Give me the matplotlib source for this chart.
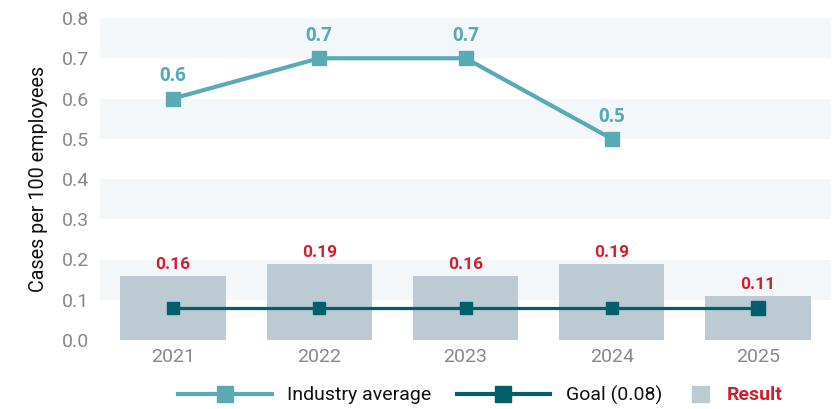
import numpy as np
import matplotlib.pyplot as plt
from matplotlib.lines import Line2D
from matplotlib.patches import Patch

years = ["2021", "2022", "2023", "2024", "2025"]
result = [0.16, 0.19, 0.16, 0.19, 0.11]
industry = [0.6, 0.7, 0.7, 0.5]
goal = [0.08, 0.08, 0.08, 0.08, 0.08]
yticks = [0.0, 0.1, 0.2, 0.3, 0.4, 0.5, 0.6, 0.7, 0.8]

plt.rcParams['font.family'] = ['Roboto', 'DejaVu Sans']

teal = "#5aaab5"
dark = "#005f6b"
red = "#d0202e"
barc = "#bccad3"

fig = plt.figure(figsize=(8.39, 4.09), dpi=100)
ax = fig.add_axes([100/839, 69/409, 731/839, 322/409])

x = np.arange(len(years))

# alternating bands
for lo in [0.1, 0.3, 0.5, 0.7]:
    ax.axhspan(lo, lo + 0.1, color="#f3f7fa", zorder=0, lw=0)

ax.bar(x, result, width=0.72, color=barc, zorder=1)
for i, v in enumerate(result):
    ax.text(x[i], v + 0.009, f"{v:.2f}", ha="center", va="bottom",
            color=red, fontsize=12.5, fontweight="bold", zorder=5)

ax.plot(x, goal, color=dark, lw=2.3, marker="s", ms=8, zorder=3)
ax.plot(x[-1], goal[-1], color=dark, marker="s", ms=10, zorder=4)

xi = x[:len(industry)]
ax.plot(xi, industry, color=teal, lw=3, marker="s", ms=10.5, zorder=3)
for i, v in enumerate(industry):
    ax.text(xi[i], v + 0.03, f"{v:.1f}", ha="center", va="bottom",
            color=teal, fontsize=13.5, fontweight="bold",
            family=["Open Sans", "DejaVu Sans"], zorder=5)

ax.set_xlim(-0.5, 4.5)
ax.set_ylim(0, 0.8)
ax.set_xticks(x)
ax.set_xticklabels(years)
ax.set_yticks(yticks)
ax.set_yticklabels([f"{t:.1f}" for t in yticks])
ax.tick_params(axis="both", length=0, labelsize=14, labelcolor="#888888")
ax.tick_params(axis="x", pad=6)
ax.tick_params(axis="y", pad=8)
for s in ax.spines.values():
    s.set_visible(False)
ax.set_ylabel("Cases per 100 employees", fontsize=14.2, color="#111111", labelpad=10)

# legend: lines, then the Result square with a short handle
line_handles = [
    Line2D([], [], color=teal, lw=3, marker="s", ms=11),
    Line2D([], [], color=dark, lw=3, marker="s", ms=11),
]
leg1 = fig.legend(line_handles, ["Industry average", "Goal (0.08)"],
                  loc="center", bbox_to_anchor=(420/839, 14/409), ncol=2,
                  frameon=False, fontsize=14, handlelength=4.8,
                  columnspacing=1.3, handletextpad=0.8)
for t in leg1.get_texts():
    t.set_color("#111111")

leg2 = fig.legend([Patch(color=barc)], ["Result"],
                  loc="center", bbox_to_anchor=(737/839, 14/409),
                  frameon=False, fontsize=14, handlelength=0.9,
                  handleheight=0.9, handletextpad=0.9)
leg2.get_texts()[0].set_color(red)
leg2.get_texts()[0].set_fontweight("bold")

fig.savefig("out.png", dpi=100)
